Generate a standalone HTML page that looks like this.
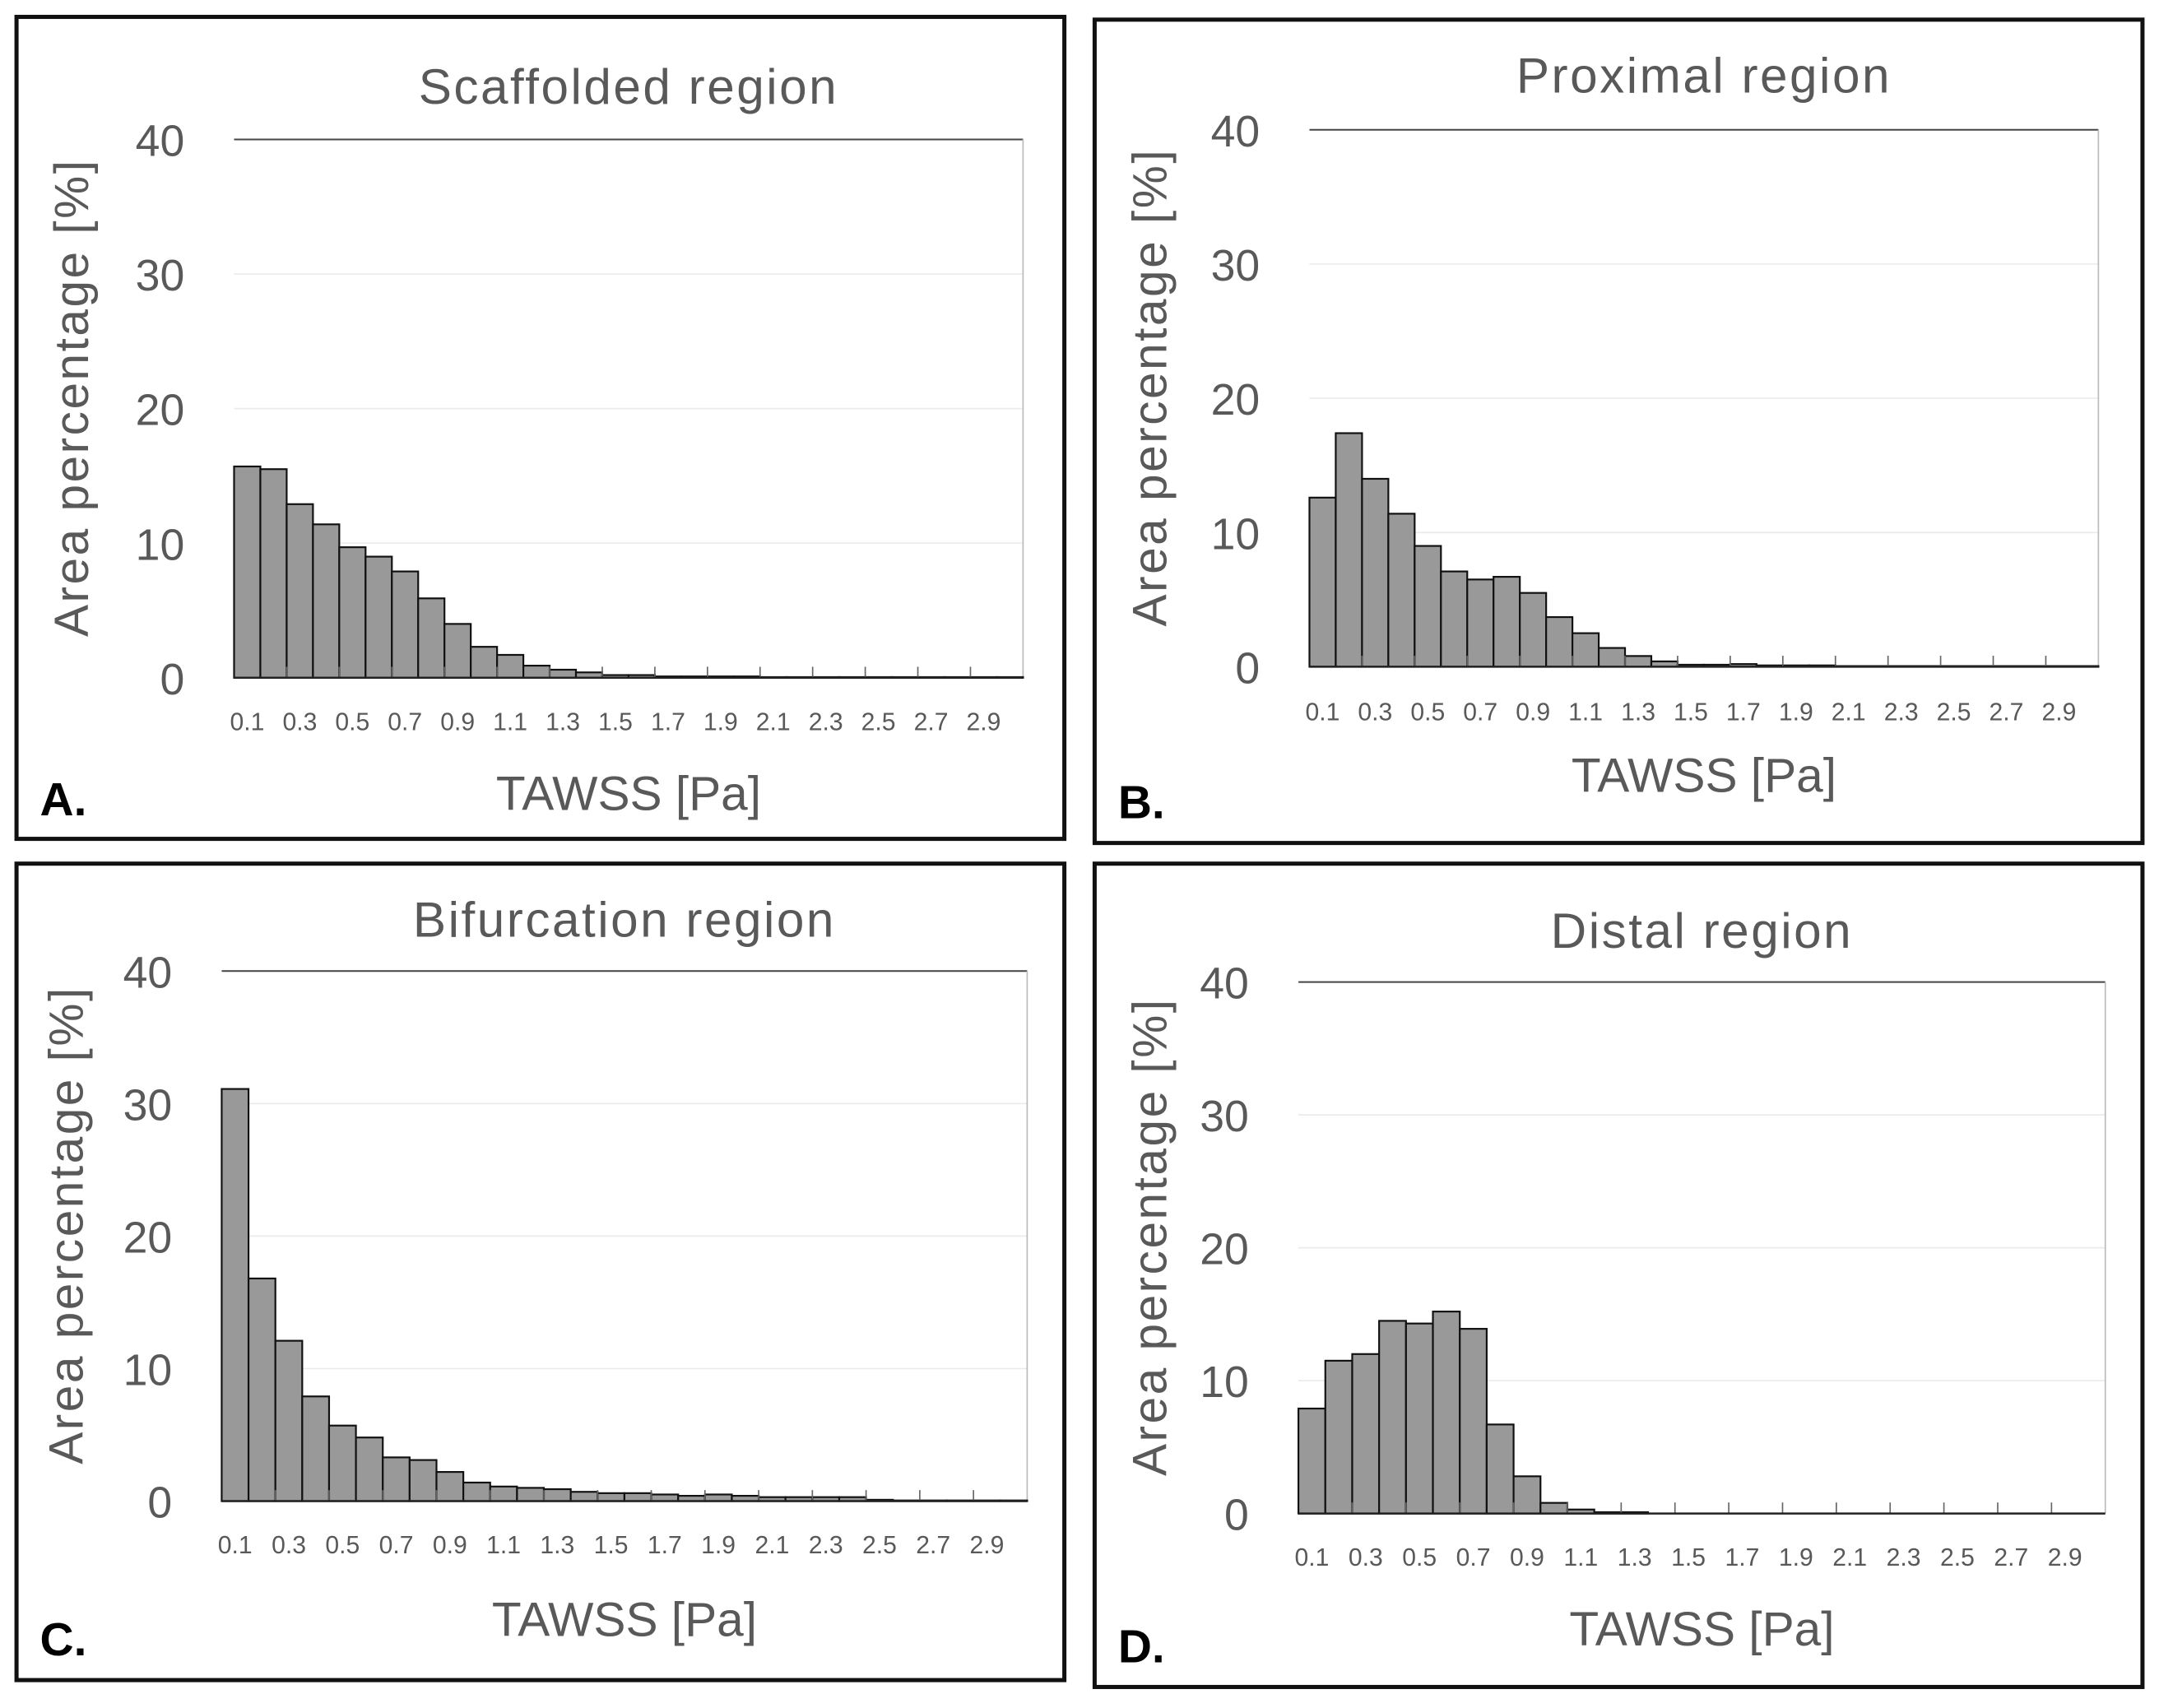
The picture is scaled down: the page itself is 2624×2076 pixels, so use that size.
<!DOCTYPE html>
<html><head><meta charset="utf-8"><style>
html,body{margin:0;padding:0;background:#fff;}
svg{display:block;}
text{font-family:"Liberation Sans",sans-serif;}
</style></head><body>
<svg id="fig" width="2624" height="2076" viewBox="0 0 1568 1240" xmlns="http://www.w3.org/2000/svg"></svg>
<script>
const binLabels = ["0.1","0.3","0.5","0.7","0.9","1.1","1.3","1.5","1.7","1.9","2.1","2.3","2.5","2.7","2.9"];
const yTicks = [0,10,20,30,40];
const scaffoldedValues = [15.7,15.5,12.9,11.4,9.7,9.0,7.9,5.9,4.0,2.3,1.7,0.9,0.6,0.4,0.2,0.2,0.1,0.1,0.1,0.1,0.05,0.05,0.05,0.05,0.05,0.05,0.05,0.05,0.05,0.05];
const proximalValues = [12.6,17.4,14.0,11.4,9.0,7.1,6.5,6.7,5.5,3.7,2.5,1.4,0.8,0.4,0.15,0.15,0.2,0.1,0.1,0.1,0.05,0.05,0.05,0.05,0.05,0.05,0.05,0.05,0.05,0.05];
const bifurcationValues = [31.1,16.8,12.1,7.9,5.7,4.8,3.3,3.1,2.2,1.4,1.1,1.0,0.9,0.7,0.6,0.6,0.5,0.4,0.5,0.4,0.3,0.3,0.3,0.3,0.1,0.05,0.05,0.05,0.05,0.05];
const distalValues = [7.9,11.5,12.0,14.5,14.3,15.2,13.9,6.7,2.8,0.8,0.3,0.1,0.1,0,0,0,0,0,0,0,0,0,0,0,0,0,0,0,0,0];

const panels = [
 {id:"a",title:"Scaffolded region",letter:"A.",values:scaffoldedValues,box:[12,12,761,597],plot:[170,101,743,492],titleY:63,labY:523,xtY:575,letterY:592,ylabX:62},
 {id:"b",title:"Proximal region",letter:"B.",values:proximalValues,box:[795,14,761,598],plot:[951,94,1524,484],titleY:55,labY:516,xtY:562,letterY:594,ylabX:845},
 {id:"c",title:"Bifurcation region",letter:"C.",values:bifurcationValues,box:[12,627,761,593],plot:[161,705,746,1090],titleY:668,labY:1121,xtY:1175,letterY:1202,ylabX:58},
 {id:"d",title:"Distal region",letter:"D.",values:distalValues,box:[795,627,761,598],plot:[943,713,1529,1099],titleY:676,labY:1130,xtY:1182,letterY:1207,ylabX:845}
];
const NS="http://www.w3.org/2000/svg";
const svg=document.getElementById('fig');
function mk(tag,attrs,parent,txt){const e=document.createElementNS(NS,tag);for(const k in attrs)e.setAttribute(k,attrs[k]);if(txt!==undefined)e.textContent=txt;parent.appendChild(e);return e;}

panels.forEach(p=>{
  const g=mk('g',{},svg);
  
  
  const [x0,y0,x1,y1]=p.plot;
  const n=p.values.length;
  const bw=(x1-x0)/n;
  const xs=i=>x0+i*bw;
  const ys=v=>y1-(v/40)*(y1-y0);
  const frame=mk('rect',{x:p.box[0],y:p.box[1],width:p.box[2],height:p.box[3],fill:'#fff',stroke:'#111','stroke-width':3},g);
  
  
  const t=mk('text',{x:(x0+x1)/2,y:p.titleY+12,'text-anchor':'middle','font-size':36,'letter-spacing':1.5,fill:'#595959'},g,p.title);
  
  
  yTicks.forEach(v=>{
    if(v>0&&v<40){const gl=mk('line',{x1:x0,x2:x1,y1:ys(v),y2:ys(v),stroke:'#ebebeb','stroke-width':1},g);
      
      }
    const tl=mk('text',{x:x0-36,y:ys(v)+12,'text-anchor':'end','font-size':32,fill:'#595959'},g,String(v));
    
    
  });
  const top=mk('line',{x1:x0,x2:x1,y1:y0,y2:y0,stroke:'#444','stroke-width':1.2},g);
  
  
  const rgt=mk('line',{x1:x1,x2:x1,y1:y0,y2:y1,stroke:'#bbb','stroke-width':1},g);
  
  
  p.values.forEach((v,i)=>{
    if(v<=0)return;
    const r=mk('rect',{x:xs(i),y:ys(v),width:bw,height:y1-ys(v),fill:'#999',stroke:'#111','stroke-width':1.3},g);
    
    
  });
  for(let i=2;i<n;i+=2){
    const tk=mk('line',{x1:xs(i),x2:xs(i),y1:y1,y2:y1-8,stroke:'#666','stroke-width':1},g);
    
    
  }
  const ax=mk('line',{x1:x0,x2:x1,y1:y1,y2:y1,stroke:'#222','stroke-width':1.5},g);
  
  
  binLabels.forEach((l,j)=>{
    const xl=mk('text',{x:xs(2*j)+bw/2,y:p.labY+7,'text-anchor':'middle','font-size':18,fill:'#595959'},g,l);
    
    
  });
  const xt=mk('text',{x:(x0+x1)/2,y:p.xtY+13,'text-anchor':'middle','font-size':35,fill:'#595959'},g,'TAWSS [Pa]');
  
  
  const yt=mk('text',{x:0,y:0,'text-anchor':'middle','font-size':35,'letter-spacing':1.5,fill:'#595959',transform:`translate(${p.ylabX+2},${(y0+y1)/2-8}) rotate(-90)`},g,'Area percentage [%]');
  
  
  const lt=mk('text',{x:p.box[0]+17,y:p.letterY,'font-size':34,'font-weight':'bold',fill:'#000'},g,p.letter);
  
  
});
</script>
</body></html>
